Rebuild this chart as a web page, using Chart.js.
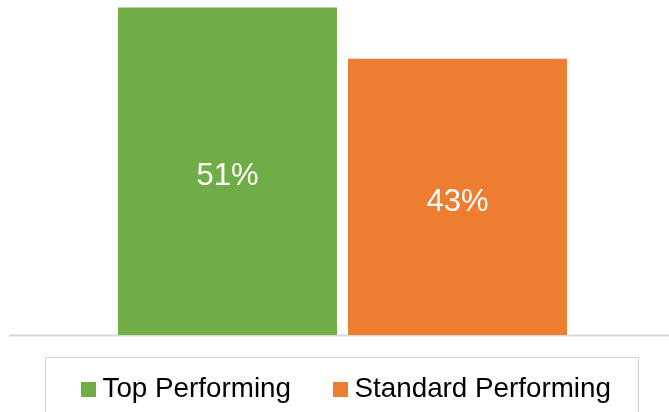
<!DOCTYPE html>
<html>
<head>
<meta charset="utf-8">
<script src="https://cdn.jsdelivr.net/npm/chart.js@4"></script>
<style>
  html, body { margin: 0; padding: 0; background: #fff; }
  #wrap { position: relative; width: 669px; height: 412px; overflow: hidden; }
  #mychart { position: absolute; left: 0; top: 0; }
  #legendBox {
    position: absolute; left: 45px; top: 357px; width: 594px; height: 80px;
    border: 1.5px solid #d4d4d4; box-sizing: border-box;
  }
  #legend {
    position: absolute; left: 81px; top: 374px; white-space: nowrap;
    font-family: "Liberation Sans", Arial, sans-serif; font-size: 27.8px;
    line-height: 27.5px; color: #000;
  }
  .item { display: inline-block; }
  .item + .item { margin-left: 42px; }
  .sw { display: inline-block; width: 15px; height: 15px; margin-right: 6.5px; vertical-align: baseline; }
</style>
</head>
<body>
<div id="wrap">
  <canvas id="mychart" width="669" height="412"></canvas>
  <div id="legendBox"></div>
  <div id="legend"></div>
</div>
<script>
// Dữ liệu
const labels = ["Share"];
const seriesNames = ["Top Performing", "Standard Performing"];
const seriesValues = [[51], [43]];
const seriesColors = ["#70ad47", "#ed7d31"];

// Nhãn % ở giữa cột
const valueLabels = {
  id: "valueLabels",
  afterDatasetsDraw(chart) {
    const c = chart.ctx;
    c.save();
    c.fillStyle = "#fff";
    c.font = '31px "Liberation Sans", Arial, sans-serif';
    c.textAlign = "center";
    c.textBaseline = "alphabetic";
    chart.data.datasets.forEach((ds, i) => {
      chart.getDatasetMeta(i).data.forEach((bar, j) => {
        const p = bar.getProps(["x", "y", "base"], true);
        const mid = (p.y + p.base) / 2;
        c.fillText(ds.data[j] + "%", p.x, mid + 13.9);
      });
    });
    c.restore();
  },
};

// Đường trục ngang
const baseLine = {
  id: "baseLine",
  beforeDatasetsDraw(chart) {
    const c = chart.ctx;
    const y = chart.scales.y.getPixelForValue(0);
    c.save();
    c.strokeStyle = "#d9d9d9";
    c.lineWidth = 2;
    c.beginPath();
    c.moveTo(9, y + 0.5);
    c.lineTo(chart.width, y + 0.5);
    c.stroke();
    c.restore();
  },
};

const ctx = document.getElementById("mychart").getContext("2d");
const mychart = new Chart(ctx, {
  type: "bar",
  data: {
    labels: labels,
    datasets: seriesNames.map((name, i) => ({
      label: name,
      data: seriesValues[i],
      backgroundColor: seriesColors[i],
      borderWidth: 0,
      categoryPercentage: 0.7044,
      barPercentage: 0.952,
    })),
  },
  options: {
    responsive: false,
    animation: false,
    layout: { padding: { left: 16, right: 0, top: 1, bottom: 77 } },
    plugins: {
      legend: { display: false },
      tooltip: { enabled: false },
    },
    scales: {
      x: { display: false },
      y: { display: false, min: 0, max: 52 },
    },
  },
  plugins: [valueLabels, baseLine],
});

// Chú thích HTML
const legendEl = document.getElementById("legend");
seriesNames.forEach((name, i) => {
  const item = document.createElement("span");
  item.className = "item";
  const sw = document.createElement("span");
  sw.className = "sw";
  sw.style.background = seriesColors[i];
  item.appendChild(sw);
  item.appendChild(document.createTextNode(name));
  legendEl.appendChild(item);
});
</script>
</body>
</html>
